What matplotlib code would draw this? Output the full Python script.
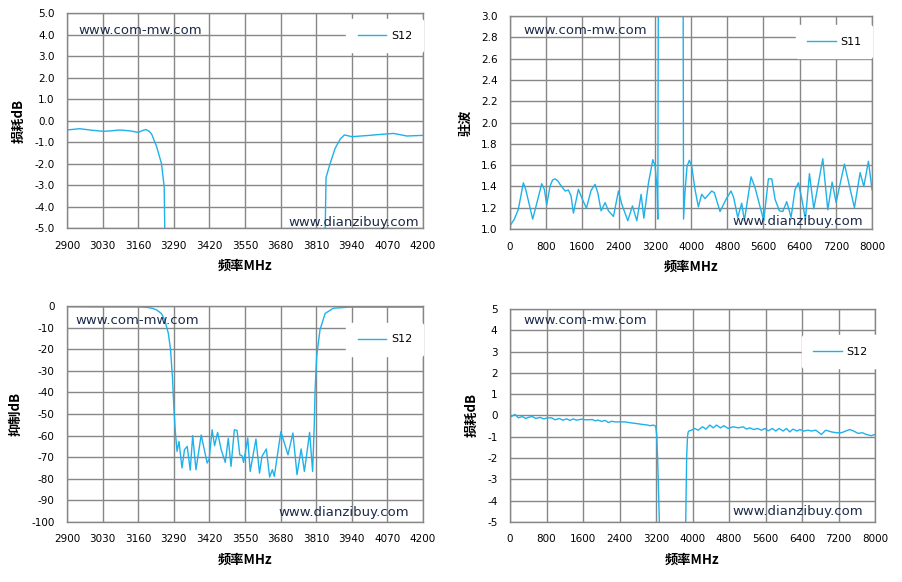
import numpy as np
import matplotlib.pyplot as plt

plt.rcParams['font.family'] = ['DejaVu Sans']

LINE_C = '#1fb1ea'
GRID_C = '#878787'
MARK_C = '#1c2b4a'
CJK = ['Noto Sans CJK SC', 'DejaVu Sans']

# --- narrowband S12, passband loss view (top left)
tl_freq = [2900, 2946, 2990, 3032, 3060, 3093, 3130, 3160, 3175, 3188, 3200, 3209,
           3227, 3245, 3251, 3255, 3258, 3270, 3300, 3800, 3835, 3843, 3846, 3861,
           3879, 3898, 3913, 3940, 3995, 4050, 4093, 4141, 4200]
tl_loss = [-0.44, -0.38, -0.45, -0.50, -0.48, -0.44, -0.48, -0.55, -0.47, -0.42, -0.50, -0.63,
           -1.2, -2.0, -2.65, -3.1, -6.0, -15, -60, -60, -8, -5.0, -2.65, -2.0,
           -1.3, -0.86, -0.67, -0.75, -0.70, -0.64, -0.60, -0.72, -0.69]

# --- wideband S11 VSWR (top right)
tr_freq = [0, 96, 184, 295, 347, 501, 605, 700, 759, 811, 885, 940, 995, 1060, 1106, 1217,
           1290, 1349, 1401, 1511, 1600, 1688, 1792, 1880, 1939, 2013, 2101, 2175, 2286,
           2396, 2470, 2603, 2706, 2802, 2898, 2957, 3060, 3156, 3207, 3251, 3266, 3282,
           3500, 3800, 3822, 3835, 3867, 3912, 3963, 4015, 4088, 4162, 4236, 4310, 4457,
           4516, 4641, 4774, 4884, 4943, 5032, 5120, 5179, 5327, 5415, 5511, 5607, 5710,
           5784, 5857, 5953, 6027, 6115, 6211, 6299, 6373, 6440, 6528, 6617, 6713, 6912,
           7022, 7118, 7206, 7390, 7611, 7737, 7818, 7921, 8000]
tr_vswr = [1.03, 1.093, 1.186, 1.434, 1.372, 1.093, 1.264, 1.425, 1.372, 1.226, 1.403, 1.46,
           1.471, 1.45, 1.419, 1.357, 1.366, 1.31, 1.149, 1.372, 1.279, 1.195, 1.363, 1.419,
           1.341, 1.171, 1.248, 1.171, 1.118, 1.357, 1.233, 1.078, 1.217, 1.078, 1.326,
           1.102, 1.434, 1.651, 1.589, 1.372, 1.093, 4.0, 10, 10, 4.0, 1.093, 1.35, 1.589,
           1.645, 1.589, 1.372, 1.208, 1.326, 1.285, 1.357, 1.341, 1.164, 1.279, 1.357,
           1.295, 1.109, 1.242, 1.078, 1.49, 1.388, 1.233, 1.078, 1.471, 1.471, 1.279,
           1.171, 1.164, 1.257, 1.109, 1.372, 1.434, 1.30, 1.093, 1.52, 1.19, 1.66, 1.18,
           1.44, 1.25, 1.61, 1.20, 1.53, 1.40, 1.636, 1.37]

# --- narrowband S12 rejection (bottom left)
bl_freq = [2900, 3000, 3100, 3160, 3190, 3210, 3227, 3245, 3257, 3270, 3278, 3285, 3290,
           3294, 3297, 3302, 3309, 3320, 3329, 3339, 3350, 3359, 3371, 3390, 3412, 3419,
           3430, 3439, 3450, 3463, 3478, 3489, 3499, 3511, 3521, 3531, 3539, 3545, 3560,
           3569, 3590, 3603, 3612, 3628, 3640, 3650, 3657, 3681, 3707, 3725, 3740, 3755,
           3767, 3786, 3797, 3803, 3806, 3812, 3824, 3843, 3873, 3934, 4000, 4100, 4200]
bl_rej = [-0.3, -0.4, -0.4, -0.4, -0.6, -1.0, -1.8, -3.5, -6.5, -12.6, -20, -32.7, -46.5,
          -55, -60.4, -67.3, -62.7, -75, -66.5, -65, -76, -60, -75.8, -59.7, -72.7, -71,
          -57.3, -64.7, -58.5, -66.5, -72.4, -61.3, -74.3, -57.3, -57.6, -68.9, -69.3,
          -72.4, -61.1, -76.6, -61.6, -77.4, -69.6, -66.2, -79.2, -75.8, -78.9, -58.2,
          -68.9, -58.8, -78.1, -66.2, -76.6, -58.5, -76.6, -55, -39, -23, -11, -3.4, -1.0,
          -0.5, -0.5, -0.5, -0.5]

# --- wideband S12 loss (bottom right)
br_freq = [0, 110, 183, 270, 343, 416, 490, 563, 658, 745, 818, 913, 986, 1081, 1154, 1242,
           1315, 1388, 1461, 1571, 1644, 1717, 1805, 1863, 1936, 2009, 2082, 2155, 2228,
           2301, 2411, 2521, 2630, 2740, 2813, 2900, 2995, 3069, 3142, 3193, 3215, 3235,
           3255, 3273, 3300, 3820, 3851, 3872, 3890, 3905, 3920, 3978, 4051, 4124, 4219,
           4292, 4380, 4453, 4526, 4613, 4686, 4781, 4891, 5000, 5110, 5183, 5256, 5343,
           5424, 5511, 5584, 5657, 5752, 5825, 5898, 5986, 6059, 6132, 6205, 6292, 6351,
           6438, 6533, 6606, 6701, 6825, 6920, 7044, 7154, 7263, 7358, 7446, 7533, 7628,
           7723, 7811, 7920, 8000]
br_loss = [-0.08, 0.05, -0.11, -0.05, -0.14, -0.08, -0.05, -0.14, -0.09, -0.16, -0.11,
           -0.11, -0.20, -0.14, -0.22, -0.16, -0.23, -0.16, -0.22, -0.17, -0.20, -0.20,
           -0.19, -0.25, -0.22, -0.28, -0.23, -0.33, -0.27, -0.30, -0.30, -0.30, -0.34,
           -0.37, -0.39, -0.42, -0.44, -0.48, -0.45, -0.50, -0.9, -2.0, -3.5, -5.0, -10,
           -10, -5.0, -1.92, -1.0, -0.78, -0.73, -0.69, -0.61, -0.69, -0.53, -0.64, -0.45,
           -0.58, -0.45, -0.58, -0.48, -0.61, -0.53, -0.58, -0.53, -0.64, -0.58, -0.66,
           -0.61, -0.69, -0.61, -0.72, -0.61, -0.73, -0.61, -0.73, -0.61, -0.77, -0.64,
           -0.73, -0.66, -0.73, -0.69, -0.73, -0.69, -0.89, -0.69, -0.77, -0.81, -0.81,
           -0.73, -0.66, -0.73, -0.84, -0.81, -0.89, -0.95, -0.89]

narrow_ticks = np.arange(2900, 4201, 130)
wide_ticks = np.arange(0, 8001, 800)


def style(ax, xticks, yticks, yfmt, ylabel, legend_xy, series, com_xy, dz_xy):
    ax.set_xlim(xticks[0], xticks[-1])
    ax.set_ylim(yticks[0], yticks[-1])
    ax.set_xticks(xticks)
    ax.set_yticks(yticks)
    ax.set_yticklabels([yfmt.format(v) for v in yticks])
    ax.tick_params(length=0, labelsize=7.5, colors='black')
    ax.tick_params(axis='y', pad=9)
    ax.tick_params(axis='x', pad=9)
    ax.grid(True, color=GRID_C, linewidth=1.0)
    ax.set_axisbelow(True)
    for s in ax.spines.values():
        s.set_color(GRID_C)
        s.set_linewidth(1.0)
    ax.set_ylabel(ylabel, family=CJK, fontweight='bold', fontsize=9.5, labelpad=6)
    ax.set_xlabel('频率MHz', family=CJK, fontweight='bold', fontsize=9.5, labelpad=6)
    leg = ax.legend([series], loc='center', bbox_to_anchor=legend_xy, fontsize=8,
                    frameon=True, handlelength=2.6, handletextpad=0.4, borderpad=1.0)
    leg.get_frame().set_facecolor('white')
    leg.get_frame().set_edgecolor('white')
    leg.get_frame().set_alpha(1)
    ax.text(com_xy[0], com_xy[1], 'www.com-mw.com', transform=ax.transAxes,
            fontsize=9.5, color=MARK_C, ha='left', va='center')
    ax.text(dz_xy[0], dz_xy[1], 'www.dianzibuy.com', transform=ax.transAxes,
            fontsize=9.5, color=MARK_C, ha='right', va='center')


fig = plt.figure(figsize=(9.03, 5.82), dpi=100)

ax1 = fig.add_axes([0.0742, 0.6082, 0.3942, 0.3694])
ax1.plot(tl_freq, tl_loss, color=LINE_C, linewidth=1.0)
style(ax1, narrow_ticks, np.arange(-5, 5.1, 1.0), '{:.1f}', '损耗dB',
      (0.893, 0.895), 'S12', (0.031, 0.921), (0.989, 0.028))

ax2 = fig.add_axes([0.5648, 0.6065, 0.4009, 0.3660])
ax2.plot(tr_freq, tr_vswr, color=LINE_C, linewidth=1.0)
style(ax2, wide_ticks, np.round(np.arange(1.0, 3.01, 0.2), 1), '{:.1f}', '驻波',
      (0.895, 0.88), 'S11', (0.036, 0.934), (0.975, 0.033))

ax3 = fig.add_axes([0.0742, 0.1031, 0.3942, 0.3711])
ax3.plot(bl_freq, bl_rej, color=LINE_C, linewidth=1.0)
style(ax3, narrow_ticks, np.arange(-100, 1, 10), '{:d}', '抑制dB',
      (0.893, 0.845), 'S12', (0.025, 0.935), (0.961, 0.046))

ax4 = fig.add_axes([0.5648, 0.1031, 0.4042, 0.3660])
ax4.plot(br_freq, br_loss, color=LINE_C, linewidth=1.0)
style(ax4, wide_ticks, np.arange(-5, 6, 1), '{:d}', '损耗dB',
      (0.905, 0.80), 'S12', (0.036, 0.944), (0.967, 0.047))

fig.savefig('out.png', dpi=100)
